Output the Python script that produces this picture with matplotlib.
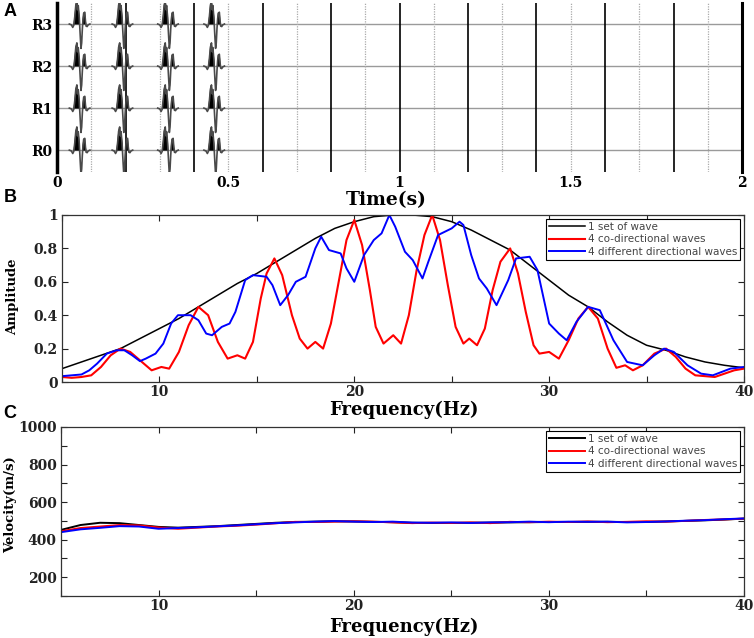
import matplotlib.pyplot as plt
import numpy as np

# ---------------- data ----------------
# panel A: wiggle traces of four receivers
trace_names = ['R0', 'R1', 'R2', 'R3']
arrival_times = [0.070, 0.195, 0.328, 0.463]
wavelet_offsets = [-0.034, -0.028, -0.024, -0.021, -0.018, -0.015, -0.012, -0.010, -0.008,
                   -0.005, -0.002, 0.000, 0.002, 0.004, 0.006, 0.008, 0.011, 0.013, 0.015,
                   0.018, 0.021, 0.026]
wavelet_amps = [0.0, -0.02, -0.08, -0.03, 0.18, 0.45, 0.55, 0.34, 0.44,
                0.16, -0.30, -0.58, -0.45, -0.12, 0.12, 0.26, 0.28, 0.08, -0.05,
                -0.06, -0.02, 0.0]
time_ticks = [0, 0.5, 1, 1.5, 2]

# panel B: amplitude spectra
one_freq = list(range(5, 41))
one_amp = [0.08, 0.12, 0.16, 0.20, 0.26, 0.32, 0.38, 0.45, 0.52, 0.59, 0.65, 0.72, 0.79,
           0.86, 0.92, 0.96, 0.99, 1.00, 1.00, 0.99, 0.96, 0.91, 0.85, 0.79, 0.70, 0.61,
           0.52, 0.45, 0.36, 0.28, 0.22, 0.19, 0.15, 0.12, 0.10, 0.085]

co_freq = [5.0, 5.5, 6.0, 6.5, 7.0, 7.5, 8.0, 8.5, 9.0, 9.6, 10.1, 10.5, 11.0, 11.5, 12.0,
           12.5, 13.0, 13.5, 14.0, 14.4, 14.8, 15.2, 15.5, 15.9, 16.3, 16.8, 17.2, 17.6,
           18.0, 18.4, 18.8, 19.2, 19.6, 20.0, 20.4, 20.8, 21.1, 21.5, 22.0, 22.4, 22.8,
           23.2, 23.6, 24.0, 24.4, 24.8, 25.2, 25.6, 25.9, 26.3, 26.7, 27.1, 27.5, 28.0,
           28.4, 28.8, 29.2, 29.5, 30.0, 30.5, 31.0, 31.5, 32.0, 32.5, 33.0, 33.45, 33.9,
           34.3, 34.8, 35.4, 36.0, 36.5, 37.0, 37.5, 38.0, 38.5, 39.0, 39.5, 40.0]
co_amp = [0.03, 0.025, 0.03, 0.04, 0.09, 0.16, 0.20, 0.18, 0.13, 0.07, 0.09, 0.08, 0.18, 0.34,
          0.45, 0.40, 0.24, 0.14, 0.16, 0.14, 0.24, 0.50, 0.65, 0.74, 0.64, 0.40, 0.26, 0.20,
          0.24, 0.20, 0.35, 0.60, 0.85, 0.97, 0.82, 0.55, 0.33, 0.23, 0.28, 0.23, 0.40,
          0.67, 0.88, 1.00, 0.85, 0.58, 0.33, 0.23, 0.26, 0.22, 0.32, 0.55, 0.72, 0.80,
          0.65, 0.42, 0.22, 0.17, 0.18, 0.14, 0.25, 0.38, 0.45, 0.38, 0.20, 0.085, 0.10,
          0.07, 0.10, 0.17, 0.20, 0.15, 0.08, 0.04, 0.035, 0.03, 0.05, 0.07, 0.08]

diff_freq = [5.0, 6.0, 6.4, 6.8, 7.3, 7.8, 8.2, 8.6, 9.0, 9.3, 9.8, 10.2, 10.6, 10.95, 11.6,
             12.0, 12.4, 12.7, 13.2, 13.6, 13.9, 14.4, 14.8, 15.5, 15.8, 16.2, 16.6, 17.0,
             17.5, 18.0, 18.3, 18.7, 19.3, 19.6, 20.0, 20.5, 21.0, 21.4, 21.8, 22.1, 22.6,
             23.0, 23.5, 23.8, 24.3, 25.0, 25.4, 25.6, 26.0, 26.4, 26.8, 27.3, 27.9, 28.3,
             29.0, 29.4, 30.0, 30.5, 30.9, 31.4, 32.0, 32.6, 33.3, 34.0, 34.8, 35.4, 35.9,
             36.4, 37.1, 37.8, 38.4, 39.3, 40.0]
diff_amp = [0.035, 0.045, 0.07, 0.11, 0.17, 0.19, 0.19, 0.16, 0.125, 0.14, 0.17, 0.23, 0.35,
            0.40, 0.40, 0.37, 0.29, 0.28, 0.33, 0.35, 0.42, 0.61, 0.64, 0.63, 0.58, 0.46,
            0.52, 0.60, 0.63, 0.80, 0.87, 0.79, 0.77, 0.68, 0.60, 0.76, 0.85, 0.89, 1.00,
            0.93, 0.78, 0.73, 0.62, 0.72, 0.88, 0.92, 0.96, 0.94, 0.76, 0.62, 0.56, 0.46,
            0.61, 0.74, 0.75, 0.67, 0.35, 0.29, 0.25, 0.36, 0.45, 0.43, 0.25, 0.12, 0.10,
            0.16, 0.20, 0.18, 0.10, 0.05, 0.04, 0.08, 0.09]

# panel C: phase velocity
vel_freq = list(range(5, 41))
vel_one = [452, 478, 490, 488, 478, 468, 464, 468, 472, 478, 484, 490, 494, 496, 498, 497,
           495, 493, 490, 489, 489, 490, 491, 492, 493, 494, 494, 495, 495, 494, 494, 497,
           500, 503, 507, 512]
vel_co = [445, 462, 470, 478, 476, 465, 458, 464, 470, 474, 480, 487, 495, 494, 496, 498,
          496, 492, 488, 491, 489, 492, 488, 495, 493, 496, 494, 497, 493, 495, 498, 496,
          500, 505, 508, 512]
vel_diff = [440, 455, 463, 472, 470, 458, 462, 466, 471, 476, 482, 488, 492, 496, 499, 496,
            494, 496, 491, 490, 492, 489, 492, 493, 496, 493, 496, 495, 496, 492, 494, 497,
            501, 504, 509, 513]

series_labels = ['1 set of wave', '4 co-directional waves', '4 different directional waves']

# ---------------- figure ----------------
W, H = 754, 638
fig = plt.figure(figsize=(W / 100, H / 100), dpi=100)


def rect(x0, y0, x1, y1):
    # pixel box -> figure fraction [left, bottom, width, height]
    return [x0 / W, 1 - y1 / H, (x1 - x0) / W, (y1 - y0) / H]


def ftext(px, py, s, **kw):
    fig.text(px / W, 1 - py / H, s, ha='center', va='center', **kw)


tick_font = dict(family='DejaVu Serif', weight='bold', size=10)
label_font = dict(family='DejaVu Serif', weight='bold')

# ---- A ----
axA = fig.add_axes(rect(57, 3, 742, 172))
offs = np.array(wavelet_offsets)
amps = np.array(wavelet_amps)
for k in range(1, 21):
    t = k / 10
    if k == 20:
        axA.axvline(t, color='black', lw=2.2, clip_on=False)
    elif k % 2 == 0:
        axA.axvline(t, color='black', lw=1.2)
    else:
        axA.axvline(t, color='#aaaaaa', lw=0.9, ls=(0, (1, 1)))
for i, name in enumerate(trace_names):
    axA.axhline(i, color='#9a9a9a', lw=1.0, zorder=1)
    for t0 in arrival_times:
        tt = t0 + offs
        yy = i + amps
        axA.fill_between(tt, i, yy, where=amps > 0, interpolate=True,
                         color='black', lw=0.6, zorder=3)
        axA.plot(tt, yy, color='#4a4a4a', lw=1.2, zorder=4)
axA.set_xlim(0, 2)
axA.set_ylim(-0.52, 3.5)
for s in ['top', 'right', 'bottom']:
    axA.spines[s].set_visible(False)
axA.spines['left'].set_linewidth(2.5)
axA.set_yticks(range(len(trace_names)))
axA.set_yticklabels(trace_names, fontdict=tick_font)
axA.set_xticks(time_ticks)
axA.set_xticklabels([f'{v:g}' for v in time_ticks], fontdict=tick_font)
axA.tick_params(axis='both', length=0)
axA.tick_params(axis='x', pad=3)
axA.tick_params(axis='y', pad=3)

# ---- B ----
axB = fig.add_axes(rect(62, 215, 744, 382))
axB.plot(one_freq, one_amp, color='black', lw=1.1, label=series_labels[0])
axB.plot(co_freq, co_amp, color='#ff0000', lw=1.5, label=series_labels[1])
axB.plot(diff_freq, diff_amp, color='#0000ff', lw=1.4, label=series_labels[2])
axB.set_xlim(5, 40)
axB.set_ylim(0, 1)
bx = [5, 10, 15, 20, 25, 30, 35, 40]
axB.set_xticks(bx)
axB.set_xticklabels(['' if v % 10 else str(v) for v in bx], fontdict=tick_font)
by = [0, 0.2, 0.4, 0.6, 0.8, 1.0]
axB.set_yticks(by)
axB.set_yticklabels([f'{v:g}' for v in by], fontdict=tick_font)

# ---- C ----
axC = fig.add_axes(rect(61, 427, 744, 596))
axC.plot(vel_freq, vel_one, color='black', lw=1.4, label=series_labels[0])
axC.plot(vel_freq, vel_co, color='#ff0000', lw=1.4, label=series_labels[1])
axC.plot(vel_freq, vel_diff, color='#0000ff', lw=1.4, label=series_labels[2])
axC.set_xlim(5, 40)
axC.set_ylim(100, 1000)
axC.set_xticks(bx)
axC.set_xticklabels(['' if v % 10 else str(v) for v in bx], fontdict=tick_font)
cy = list(range(100, 1001, 100))
axC.set_yticks(cy)
axC.set_yticklabels(['' if v % 200 else str(v) for v in cy], fontdict=tick_font)

for ax in (axB, axC):
    ax.tick_params(direction='in', top=True, right=True, length=4, width=0.8,
                   colors='#222222')
    ax.tick_params(axis='x', pad=2)
    ax.tick_params(axis='y', pad=3)
    for s in ax.spines.values():
        s.set_linewidth(0.9)
        s.set_color('#333333')
    leg = ax.legend(loc='upper right', frameon=True, fancybox=False,
                    edgecolor='black', framealpha=1, handlelength=3.4,
                    handletextpad=0.3, labelspacing=0.25, borderpad=0.3,
                    borderaxespad=0.35, prop={'family': 'DejaVu Sans', 'size': 7.5})
    leg.get_frame().set_linewidth(0.8)
    for txt in leg.get_texts():
        txt.set_color('#444444')

# ---- labels ----
ftext(386, 200, 'Time(s)', fontsize=13.5, **label_font)
ftext(404, 410, 'Frequency(Hz)', fontsize=13, **label_font)
ftext(404, 627, 'Frequency(Hz)', fontsize=13, **label_font)
ftext(13, 297, 'Amplitude', fontsize=9.5, rotation=90, **label_font)
ftext(11, 505, 'Velocity(m/s)', fontsize=9.5, rotation=90, **label_font)
for letter, py in [('A', 12), ('B', 197), ('C', 414)]:
    ftext(10, py, letter, fontsize=13, family='Liberation Sans', weight='bold')

fig.savefig('out.png', dpi=100)
